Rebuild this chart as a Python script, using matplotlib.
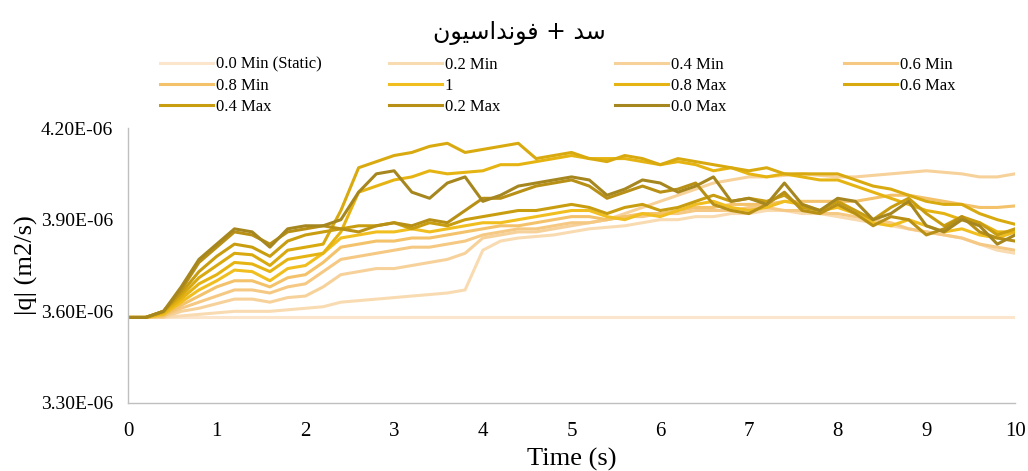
import numpy as np
import matplotlib
matplotlib.use("Agg")
import matplotlib.pyplot as plt
from matplotlib.ticker import FuncFormatter

# time axis (s), sampled every 0.2 s
t = np.linspace(0, 10, 51)

# |q| values in 1e-6 m2/s
q_static = [3.58] * 51
q_02min = [3.58, 3.58, 3.58, 3.585, 3.59, 3.595, 3.60, 3.60, 3.60, 3.605,
           3.61, 3.615, 3.63, 3.635, 3.64, 3.645, 3.65, 3.655, 3.66, 3.67,
           3.80, 3.83, 3.84, 3.845, 3.85, 3.86, 3.87, 3.875, 3.88, 3.89,
           3.90, 3.90, 3.91, 3.91, 3.92, 3.92, 3.93, 3.93, 3.92, 3.92,
           3.91, 3.90, 3.89, 3.88, 3.87, 3.86, 3.85, 3.84, 3.82, 3.80, 3.79]
q_04min = [3.58, 3.58, 3.58, 3.60, 3.61, 3.625, 3.64, 3.64, 3.63, 3.645,
           3.65, 3.68, 3.72, 3.73, 3.74, 3.74, 3.75, 3.76, 3.77, 3.79,
           3.84, 3.85, 3.86, 3.86, 3.87, 3.88, 3.89, 3.90, 3.92, 3.94,
           3.96, 3.98, 4.00, 4.02, 4.03, 4.04, 4.04, 4.045, 4.05, 4.045,
           4.04, 4.04, 4.045, 4.05, 4.055, 4.06, 4.055, 4.05, 4.04, 4.04, 4.05]
q_06min = [3.58, 3.58, 3.585, 3.61, 3.63, 3.65, 3.67, 3.67, 3.66, 3.68,
           3.69, 3.73, 3.77, 3.78, 3.79, 3.80, 3.81, 3.81, 3.82, 3.83,
           3.85, 3.86, 3.87, 3.87, 3.88, 3.89, 3.89, 3.90, 3.91, 3.91,
           3.92, 3.92, 3.93, 3.93, 3.93, 3.94, 3.94, 3.93, 3.93, 3.92,
           3.92, 3.91, 3.90, 3.89, 3.87, 3.86, 3.85, 3.84, 3.82, 3.81, 3.80]
q_08min = [3.58, 3.58, 3.585, 3.62, 3.65, 3.68, 3.70, 3.70, 3.68, 3.71,
           3.72, 3.76, 3.81, 3.82, 3.83, 3.83, 3.84, 3.84, 3.85, 3.86,
           3.87, 3.88, 3.88, 3.89, 3.90, 3.91, 3.91, 3.90, 3.91, 3.92,
           3.92, 3.93, 3.94, 3.94, 3.95, 3.95, 3.95, 3.96, 3.96, 3.96,
           3.96, 3.96, 3.97, 3.98, 3.98, 3.97, 3.96, 3.95, 3.94, 3.94, 3.945]
q_1 = [3.58, 3.58, 3.59, 3.63, 3.67, 3.70, 3.735, 3.73, 3.70, 3.74,
       3.75, 3.79, 3.84, 3.85, 3.86, 3.86, 3.87, 3.86, 3.87, 3.88,
       3.89, 3.89, 3.90, 3.91, 3.92, 3.93, 3.93, 3.91, 3.90, 3.92,
       3.91, 3.93, 3.95, 3.96, 3.94, 3.93, 3.94, 3.96, 3.95, 3.93,
       3.94, 3.92, 3.89, 3.88, 3.90, 3.88, 3.86, 3.87, 3.85, 3.84, 3.86]
q_08max = [3.58, 3.58, 3.595, 3.64, 3.69, 3.72, 3.76, 3.755, 3.73, 3.77,
           3.78, 3.79, 3.86, 3.99, 4.01, 4.03, 4.04, 4.06, 4.05, 4.055,
           4.06, 4.08, 4.08, 4.09, 4.10, 4.11, 4.10, 4.10, 4.10, 4.09,
           4.08, 4.09, 4.08, 4.06, 4.07, 4.05, 4.04, 4.05, 4.04, 4.03,
           4.03, 4.01, 3.99, 3.97, 3.95, 3.93, 3.92, 3.90, 3.89, 3.86, 3.86]
q_06max = [3.58, 3.58, 3.60, 3.65, 3.71, 3.75, 3.79, 3.785, 3.75, 3.80,
           3.81, 3.82, 3.93, 4.07, 4.09, 4.11, 4.12, 4.14, 4.15, 4.12,
           4.13, 4.14, 4.15, 4.10, 4.11, 4.12, 4.10, 4.09, 4.11, 4.10,
           4.08, 4.10, 4.09, 4.08, 4.07, 4.06, 4.07, 4.05, 4.05, 4.05,
           4.05, 4.03, 4.01, 4.00, 3.98, 3.96, 3.95, 3.95, 3.92, 3.90, 3.885]
q_04max = [3.58, 3.58, 3.60, 3.66, 3.73, 3.78, 3.82, 3.81, 3.78, 3.83,
           3.85, 3.86, 3.87, 3.88, 3.88, 3.89, 3.87, 3.89, 3.88, 3.90,
           3.91, 3.92, 3.93, 3.93, 3.94, 3.95, 3.94, 3.92, 3.94, 3.95,
           3.93, 3.94, 3.96, 3.98, 3.96, 3.97, 3.96, 3.98, 3.94, 3.93,
           3.96, 3.93, 3.90, 3.94, 3.97, 3.92, 3.88, 3.91, 3.89, 3.85, 3.87]
q_02max = [3.58, 3.58, 3.60, 3.67, 3.76, 3.81, 3.86, 3.85, 3.82, 3.86,
           3.87, 3.88, 3.87, 3.86, 3.88, 3.89, 3.88, 3.90, 3.89, 3.93,
           3.97, 3.97, 3.99, 4.01, 4.02, 4.03, 4.01, 3.97, 3.99, 4.01,
           3.99, 4.00, 4.02, 3.95, 3.93, 3.92, 3.95, 3.99, 3.93, 3.92,
           3.95, 3.92, 3.88, 3.91, 3.90, 3.85, 3.87, 3.91, 3.86, 3.84, 3.83]
q_00max = [3.58, 3.58, 3.60, 3.68, 3.77, 3.82, 3.87, 3.86, 3.81, 3.87,
           3.88, 3.88, 3.90, 3.99, 4.05, 4.06, 3.99, 3.97, 4.02, 4.04,
           3.96, 3.98, 4.01, 4.02, 4.03, 4.04, 4.03, 3.98, 4.00, 4.03,
           4.02, 3.99, 4.01, 4.04, 3.96, 3.97, 3.95, 4.02, 3.95, 3.93,
           3.97, 3.96, 3.90, 3.92, 3.96, 3.88, 3.86, 3.90, 3.88, 3.82, 3.85]

labels = ["0.0 Min (Static)", "0.2 Min", "0.4 Min", "0.6 Min", "0.8 Min", "1",
          "0.8 Max", "0.6 Max", "0.4 Max", "0.2 Max", "0.0 Max"]
series = [q_static, q_02min, q_04min, q_06min, q_08min, q_1,
          q_08max, q_06max, q_04max, q_02max, q_00max]
colors = ["#FBE5CC", "#F9DBB2", "#F7D19A", "#F5C983", "#F3C26A", "#F0BE1E",
          "#E6B412", "#D9AA10", "#C99D10", "#B89016", "#A6861E"]

plt.rcParams['font.family'] = ['Liberation Serif', 'DejaVu Sans']

fig = plt.figure(figsize=(10.28, 4.71), dpi=100)
ax = fig.add_axes([0.1245, 0.1444, 0.8629, 0.5838])

lines = []
for y, c, lab in zip(series, colors, labels):
    ln, = ax.plot(t, np.array(y) * 1e-6, color=c, lw=2.2, label=lab,
                  solid_joinstyle='round')
    lines.append(ln)

ax.set_xlim(0, 10)
ax.set_ylim(3.3e-6, 4.2e-6)
ax.set_xticks(range(11))
ax.set_yticks([3.3e-6, 3.6e-6, 3.9e-6, 4.2e-6])
ax.yaxis.set_major_formatter(FuncFormatter(lambda v, p: "%.2E" % v))
ax.tick_params(axis='x', length=0, pad=14, labelsize=15)
ax.tick_params(axis='y', length=0, pad=11, labelsize=14)
for s in ['top', 'right']:
    ax.spines[s].set_visible(False)
for s in ['left', 'bottom']:
    ax.spines[s].set_color('#BFBFBF')
    ax.spines[s].set_linewidth(1.0)

ax.set_xlabel("Time (s)", fontsize=19, labelpad=5)
ax.set_ylabel("|q| (m2/s)", fontsize=19, labelpad=2)

# title: Persian text in presentation forms, visual order
title = "\uFEE5\uFEEE\uFEF4\uFEB3\uFE8D\uFEAA\uFEE7\uFEEE\uFED3 + \uFEAA\uFEB3"
fig.text(0.505, 0.930, title, ha='center', va='center', fontsize=17,
         family=['DejaVu Sans'])

# legend: four columns placed like the Excel layout
cols = [[0, 4, 8], [1, 5, 9], [2, 6, 10], [3, 7]]
col_x = [0.1556, 0.3784, 0.5982, 0.8210]
for idx, x0 in zip(cols, col_x):
    leg = fig.legend([lines[i] for i in idx], [labels[i] for i in idx],
                     loc='upper left', bbox_to_anchor=(x0, 0.880),
                     frameon=False, fontsize=12, handlelength=3.2,
                     handletextpad=0.15, labelspacing=0.3,
                     borderpad=0, borderaxespad=0)

fig.savefig("out.png", dpi=100)
